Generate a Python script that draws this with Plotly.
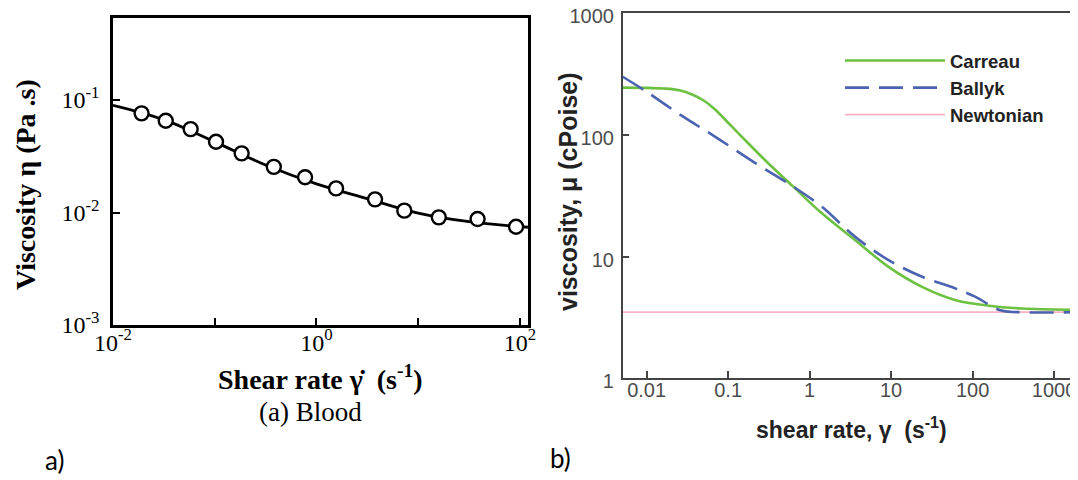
import plotly.graph_objects as go

W, H = 1078, 480
OFF = 8  # page body margin that shifts the figure in the browser

# ---------------- Panel a) Blood ----------------
blood_rate = [0.0191, 0.033, 0.058, 0.103, 0.184, 0.381, 0.773, 1.56, 3.77, 7.31, 15.96, 38.4, 91.8]
blood_visc = [0.0762, 0.0655, 0.0552, 0.0426, 0.0336, 0.0255, 0.0206, 0.0164, 0.0131, 0.0104, 0.00906, 0.00875, 0.00748]
fit_rate = [0.01, 0.0316, 0.1, 0.316, 1.0, 3.16, 10.0, 31.6, 120.0]
fit_visc = [0.090, 0.067, 0.0425, 0.0265, 0.0180, 0.0133, 0.0099, 0.0083, 0.0074]

a_xticks = [0.01, 0.1, 1, 10, 100]
a_xticktext = ["10<sup>-2</sup>", "", "10<sup>0</sup>", "", "10<sup>2</sup>"]
a_yticks = [0.001, 0.01, 0.1]
a_yticktext = ["10<sup>-3</sup>", "10<sup>-2</sup>", "10<sup>-1</sup>"]

# ---------------- Panel b) models ----------------
carreau_rate = [0.00508, 0.01, 0.01585, 0.0251, 0.0355, 0.0501, 0.0692, 0.1, 0.1466, 0.3105, 0.6295,
                1.403, 3.597, 9.204, 23.66, 60.67, 158.5, 398, 2466]
carreau_visc = [245, 244, 241, 233, 216, 192, 162, 126, 97, 58.5, 37.6,
                22.8, 13.7, 8.28, 5.67, 4.41, 3.95, 3.75, 3.65]
ballyk_rate = [0.00508, 0.00955, 0.02685, 0.0689, 0.2133, 0.6295, 1.403, 3.597, 9.204, 23.66, 60.67,
               107.2, 218.8, 354.8, 2466]
ballyk_visc = [301, 231, 144, 97, 59, 37.6, 25.8, 14.6, 9.4, 6.86, 5.5, 4.69, 3.62, 3.5, 3.5]
newton_rate = [0.00508, 2466]
newton_visc = [3.5, 3.5]

b_xticks = [0.01, 0.1, 1, 10, 100, 1000]
b_xticktext = ["0.01", "0.1", "1", "10", "100", "1000"]
b_yticks = [1, 10, 100, 1000]
b_yticktext = ["1", "10", "100", "1000"]

SERIF = "Liberation Serif"
SANS = "Liberation Sans"

fig = go.Figure()

fig.add_trace(go.Scatter(x=fit_rate, y=fit_visc, mode="lines", line=dict(color="black", width=2.8, shape="spline"),
                         showlegend=False, xaxis="x", yaxis="y"))
fig.add_trace(go.Scatter(x=blood_rate, y=blood_visc, mode="markers",
                         marker=dict(symbol="circle", size=14, color="white", line=dict(color="black", width=2.4)),
                         showlegend=False, xaxis="x", yaxis="y"))

fig.add_trace(go.Scatter(x=newton_rate, y=newton_visc, mode="lines", name="Newtonian",
                         line=dict(color="#f6b3c3", width=1.8), xaxis="x2", yaxis="y2", legendrank=3))
fig.add_trace(go.Scatter(x=carreau_rate, y=carreau_visc, mode="lines", name="Carreau",
                         line=dict(color="#6cc142", width=2.6, shape="spline"), xaxis="x2", yaxis="y2", legendrank=1))
fig.add_trace(go.Scatter(x=ballyk_rate, y=ballyk_visc, mode="lines", name="Ballyk",
                         line=dict(color="#4b63b0", width=2.6, shape="spline", dash="24px,10px"),
                         xaxis="x2", yaxis="y2", legendrank=2))


def px(x):
    return (x - OFF) / W


def py(y):
    return 1 - (y - OFF) / H


fig.update_layout(
    width=W, height=H,
    margin=dict(l=0, r=0, t=0, b=0, pad=0, autoexpand=False),
    paper_bgcolor="white", plot_bgcolor="white",
    xaxis=dict(type="log", range=[-2, 2.08], domain=[px(113), px(528)], automargin=False,
               tickvals=a_xticks, ticktext=a_xticktext, ticks="inside", ticklen=7, tickwidth=2,
               tickcolor="black", showline=True, linecolor="black", linewidth=2.5, mirror=True,
               showgrid=False, zeroline=False, ticklabelstandoff=-6, ticklabeloverflow="allow",
               tickfont=dict(family=SERIF, size=24, color="black"), anchor="y"),
    yaxis=dict(type="log", range=[-3, -0.27], domain=[py(325), py(18)], automargin=False,
               tickvals=a_yticks, ticktext=a_yticktext, ticks="inside", ticklen=7, tickwidth=2,
               tickcolor="black", showline=True, linecolor="black", linewidth=2.5, mirror=True,
               showgrid=False, zeroline=False, ticklabelstandoff=6, ticklabeloverflow="allow",
               tickfont=dict(family=SERIF, size=24, color="black"), anchor="x"),
    xaxis2=dict(type="log", range=[-2.294, 3.392], domain=[px(622.7), 1.0], automargin=False,
                tickvals=b_xticks, ticktext=b_xticktext, ticks="inside", ticklen=8, tickwidth=1.5,
                tickcolor="#444", showline=True, linecolor="#444", linewidth=1.5, mirror=True,
                showgrid=False, zeroline=False, ticklabelstandoff=-7, ticklabeloverflow="allow",
                tickfont=dict(family=SANS, size=20, color="#4d4d4d"), anchor="y2"),
    yaxis2=dict(type="log", range=[0, 3], domain=[py(378.3), py(13.3)], automargin=False,
                tickvals=b_yticks, ticktext=b_yticktext, ticks="inside", ticklen=7, tickwidth=1.5,
                tickcolor="#444", showline=True, linecolor="#444", linewidth=1.5, mirror=False,
                showgrid=False, zeroline=False, ticklabelstandoff=3, ticklabeloverflow="allow",
                ticklabelshift=3,
                tickfont=dict(family=SANS, size=20, color="#4d4d4d"), anchor="x2"),
    legend=dict(x=px(840), y=py(42), xanchor="left", yanchor="top", bgcolor="rgba(0,0,0,0)",
                font=dict(family=SANS, size=18.5, color="#222", weight="bold"), itemwidth=100,
                traceorder="normal"),
    showlegend=True,
)

annotations = [
    dict(text="<b>Viscosity η (Pa .s)</b>", x=px(25), y=py(185), textangle=-90,
         font=dict(family=SERIF, size=28, color="black")),
    dict(text="<b>Shear rate γ̇  (s<sup>-1</sup>)</b>", x=px(320), y=py(377),
         font=dict(family=SERIF, size=28, color="black")),
    dict(text="(a) Blood", x=px(310), y=py(412), font=dict(family=SERIF, size=27, color="black")),
    dict(text="a)", x=px(55), y=py(460), font=dict(family="Lato", size=26, color="black")),
    dict(text="b)", x=px(560), y=py(458), font=dict(family="Lato", size=26, color="black")),
    dict(text="<b>viscosity, μ (cPoise)</b>", x=px(568), y=py(192), textangle=-90,
         font=dict(family=SANS, size=25, color="#222")),
    dict(text="<b>shear rate, γ  (s<sup>-1</sup>)</b>", x=px(851), y=py(428),
         font=dict(family=SANS, size=23, color="#222")),
]
for a in annotations:
    a.update(xref="paper", yref="paper", showarrow=False, xanchor="center", yanchor="middle")
fig.update_layout(annotations=annotations)

fig.write_html("out.html")
